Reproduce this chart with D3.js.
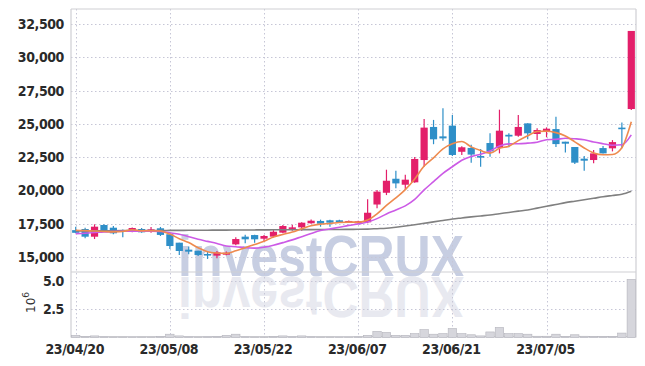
<!DOCTYPE html>
<html><head><meta charset="utf-8">
<script src="https://cdn.jsdelivr.net/npm/d3@7"></script>
<style>
html,body{margin:0;padding:0;background:#fff;}
svg{display:block;}
.lbl{font-family:"Liberation Sans Narrow","DejaVu Sans Condensed","Roboto",sans-serif;font-size:14px;font-weight:bold;fill:#2a2a2a;letter-spacing:-0.4px;}
</style></head>
<body><svg id="c" width="645" height="366"></svg>
<script>
const dates = ["23/04/20","23/04/21","23/04/24","23/04/25","23/04/26","23/04/27","23/04/28","23/05/02","23/05/03","23/05/04",
"23/05/08","23/05/09","23/05/10","23/05/11","23/05/12","23/05/15","23/05/16","23/05/17","23/05/18","23/05/19",
"23/05/22","23/05/23","23/05/24","23/05/25","23/05/26","23/05/30","23/05/31","23/06/01","23/06/02","23/06/05",
"23/06/07","23/06/08","23/06/09","23/06/12","23/06/13","23/06/14","23/06/15","23/06/16","23/06/19","23/06/20",
"23/06/21","23/06/22","23/06/23","23/06/26","23/06/27","23/06/28","23/06/29","23/06/30","23/07/03","23/07/04",
"23/07/05","23/07/06","23/07/07","23/07/10","23/07/11","23/07/12","23/07/13","23/07/14","23/07/17","23/07/18"];
const openP = [17000,17086,16506,17387,17184,17010,16913,17086,16935,17140,
16690,16055,15530,15450,15205,15080,15150,15930,16510,16630,
16355,16510,16810,17110,17210,17515,17690,17740,17740,17560,
17515,17590,18930,19815,20870,20420,20600,22280,24770,24060,
24870,22900,23190,22580,23560,23190,24180,24110,25040,24240,
24440,24610,23660,23260,22380,22280,23180,23160,24720,26120];
const highP = [17260,17180,17440,17440,17320,17050,17200,17160,17240,17240,
16700,16055,15760,15450,15380,15430,15400,16460,16660,16660,
16630,17000,17390,17400,17600,17800,17790,17790,17790,17720,
17700,19320,20020,21550,21470,21170,22500,25360,25300,26170,
25670,23310,23430,23110,24290,26070,24290,25670,25040,24670,
24740,25540,23660,23260,22580,23030,23330,23780,25110,32000];
const lowP = [16760,16385,16330,16950,16690,16460,16850,16800,16800,16560,
15580,15130,15190,15060,14830,14880,15100,15860,16010,16055,
16130,16460,16760,16960,16960,17480,17260,17260,17560,17530,
17480,17510,18650,19640,20150,20020,20560,21770,23470,23740,
22580,22660,22080,21780,22530,22780,23240,24040,23840,23790,
23990,23260,22840,21980,21480,22030,22780,22930,23170,26050];
const closeP = [16800,16506,17260,17011,16762,16960,17160,16837,17063,16640,
15805,15430,15380,15130,15130,15330,15300,16330,16310,16310,
16560,16880,17310,17210,17560,17710,17485,17560,17590,17690,
17665,18310,19900,20720,20520,20800,22360,24720,23840,23910,
22660,23240,22690,22460,22930,24490,24050,24770,24290,24540,
24640,23480,23510,22080,22230,22780,22780,23630,24620,32000];
const ma5 = [16990,16960,16930,16900,16868,16900,17031,16946,16956,16932,
16701,16355,16064,15677,15375,15280,15254,15444,15680,15916,
16162,16478,16674,16854,17104,17334,17455,17505,17581,17607,
17598,17763,18231,18857,19423,20050,20860,21824,22448,23126,
23498,23674,23268,22992,22796,23162,23324,23740,24106,24428,
24458,24344,24092,23650,23188,22816,22676,22700,23208,25162];
const ma10 = [16740,16770,16820,16870,16895,16915,16925,16925,16920,16900,
16800,16693,16505,16317,16154,15991,15805,15754,15679,15646,
15721,15866,16059,16267,16510,16748,16967,17090,17218,17356,
17466,17609,17868,18219,18515,18824,19312,20028,20653,21275,
21774,22267,22546,22720,22961,23330,23499,23504,23549,23612,
23810,23834,23916,23878,23808,23637,23510,23396,23429,24175];
const ma60 = [16940,16944,16948,16952,16956,16960,16964,16968,16972,16976,
16980,16984,16988,16992,16996,17000,17004,17008,17012,17016,
17020,17024,17028,17032,17036,17040,17044,17048,17052,17058,
17065,17080,17110,17140,17220,17310,17410,17515,17620,17730,
17840,17920,18000,18070,18140,18240,18330,18430,18520,18660,
18800,18930,19070,19180,19290,19400,19520,19610,19700,19930];
const volume = [0.2,0.08,0.15,0.06,0.05,0.05,0.04,0.05,0.05,0.08,
0.3,0.15,0.06,0.05,0.06,0.1,0.2,0.3,0.06,0.05,
0.05,0.08,0.15,0.06,0.15,0.06,0.05,0.05,0.04,0.04,
0.06,0.2,0.55,0.45,0.2,0.2,0.35,0.7,0.3,0.35,
0.8,0.35,0.25,0.15,0.5,0.9,0.35,0.35,0.3,0.12,
0.12,0.3,0.1,0.25,0.12,0.08,0.08,0.08,0.4,5.15];
const priceTicks = [15000,17500,20000,22500,25000,27500,30000,32500];
const volTicks = [2.5,5.0];
const dateTicks = ["23/04/20","23/05/08","23/05/22","23/06/07","23/06/21","23/07/05"];

const svg = d3.select("#c");
const L = 71, R = 636, PT = 9, PB = 272, VT = 272, VB = 337.6;
const x = d3.scaleBand().domain(dates).range([L, R]).padding(0);
const bw = x.bandwidth();
const cx = d => x(d) + bw/2;
const y = d3.scaleLinear().domain([13848, 33652]).range([PB, PT]);
const yv = d3.scaleLinear().domain([0, 5.8]).range([VB, VT]);

const UP = "#e31f6a", DOWN = "#2e8fc8";

// watermark with reflection
const wm = svg.append("g");
wm.append("text").attr("x", 178).attr("y", 276)
  .attr("textLength", 286).attr("lengthAdjust", "spacingAndGlyphs")
  .style("font-family", "Liberation Sans, Arial, sans-serif").style("font-weight", "bold")
  .style("font-size", "57px").style("fill", "#c7cee2").text("investCRUX");
wm.append("text").attr("x", 178).attr("y", -277)
  .attr("transform", "scale(1,-1)")
  .attr("textLength", 286).attr("lengthAdjust", "spacingAndGlyphs")
  .style("font-family", "Liberation Sans, Arial, sans-serif").style("font-weight", "bold")
  .style("font-size", "57px").style("fill", "#e8e9f0").text("investCRUX");
svg.append("rect").attr("x", 0).attr("y", VB).attr("width", 645).attr("height", 366 - VB).attr("fill", "#fff");

// grid
const grid = svg.append("g").attr("stroke", "#c6c6d6").attr("stroke-dasharray", "1.5,2.5").attr("stroke-width", 1);
grid.selectAll(".hp").data(priceTicks).join("line")
  .attr("x1", L).attr("x2", R).attr("y1", d => Math.round(y(d)) + 0.5).attr("y2", d => Math.round(y(d)) + 0.5);
grid.selectAll(".hv").data(volTicks).join("line")
  .attr("x1", L).attr("x2", R).attr("y1", d => Math.round(yv(d)) + 0.5).attr("y2", d => Math.round(yv(d)) + 0.5);
grid.selectAll(".vx").data(dateTicks).join("line")
  .attr("x1", d => Math.round(cx(d)) + 0.5).attr("x2", d => Math.round(cx(d)) + 0.5)
  .attr("y1", PT).attr("y2", VB);

// frame
const fr = svg.append("g").attr("stroke", "#cfcfd4").attr("fill", "none").attr("stroke-width", 1.2);
fr.append("line").attr("x1", L).attr("x2", L).attr("y1", PT).attr("y2", VB);
fr.append("line").attr("x1", R).attr("x2", R).attr("y1", PT).attr("y2", VB);
fr.append("line").attr("x1", L).attr("x2", R).attr("y1", PT).attr("y2", PT);
fr.append("line").attr("x1", L).attr("x2", R).attr("y1", PB).attr("y2", PB);
fr.append("line").attr("x1", L).attr("x2", R).attr("y1", VB - 1).attr("y2", VB - 1);

// volume bars
svg.append("g").selectAll("rect").data(dates).join("rect")
  .attr("x", d => x(d) + 0.5).attr("width", bw - 1)
  .attr("y", (d, i) => yv(volume[i])).attr("height", (d, i) => yv(0) - yv(volume[i]))
  .attr("fill", "#d6d6dc").attr("stroke", "#b4b4bc").attr("stroke-width", 0.6);

// candles
const cg = svg.append("g");
dates.forEach((d, i) => {
  const col = closeP[i] >= openP[i] ? UP : DOWN;
  const c = cx(d);
  cg.append("line").attr("x1", c).attr("x2", c).attr("y1", y(highP[i])).attr("y2", y(lowP[i]))
    .attr("stroke", col).attr("stroke-width", 1.2);
  const top = y(Math.max(openP[i], closeP[i])), bot = y(Math.min(openP[i], closeP[i]));
  cg.append("rect").attr("x", c - 3.6).attr("width", 7.2)
    .attr("y", top).attr("height", Math.max(1.6, bot - top)).attr("fill", col);
});

// moving averages
const line = arr => d3.line().x((d, i) => cx(dates[i])).y(d => y(d)).curve(d3.curveMonotoneX)(arr);
svg.append("path").attr("d", line(ma60)).attr("fill", "none").attr("stroke", "#808080").attr("stroke-width", 1.6);
svg.append("path").attr("d", line(ma10)).attr("fill", "none").attr("stroke", "#cc5ae6").attr("stroke-width", 1.6);
svg.append("path").attr("d", line(ma5)).attr("fill", "none").attr("stroke", "#ee8a4e").attr("stroke-width", 1.6);

// labels
svg.append("g").selectAll("text").data(priceTicks).join("text").attr("class", "lbl")
  .attr("x", 64).attr("y", d => y(d) + 5).attr("text-anchor", "end")
  .text(d => d3.format(",")(d));
svg.append("g").selectAll("text").data(volTicks).join("text").attr("class", "lbl")
  .attr("x", 64).attr("y", d => yv(d) + 5).attr("text-anchor", "end")
  .text(d => d3.format(".1f")(d));
svg.append("g").selectAll("text").data(dateTicks).join("text").attr("class", "lbl")
  .attr("x", d => cx(d) - 1).attr("y", 354).attr("text-anchor", "middle").text(d => d);
const exp = svg.append("text").attr("transform", "translate(35,313) rotate(-90)")
  .style("font-family", "DejaVu Sans, sans-serif").style("font-size", "12px").style("fill", "#333");
exp.append("tspan").text("10");
exp.append("tspan").attr("dy", -6).style("font-size", "9px").text("6");
</script></body></html>
